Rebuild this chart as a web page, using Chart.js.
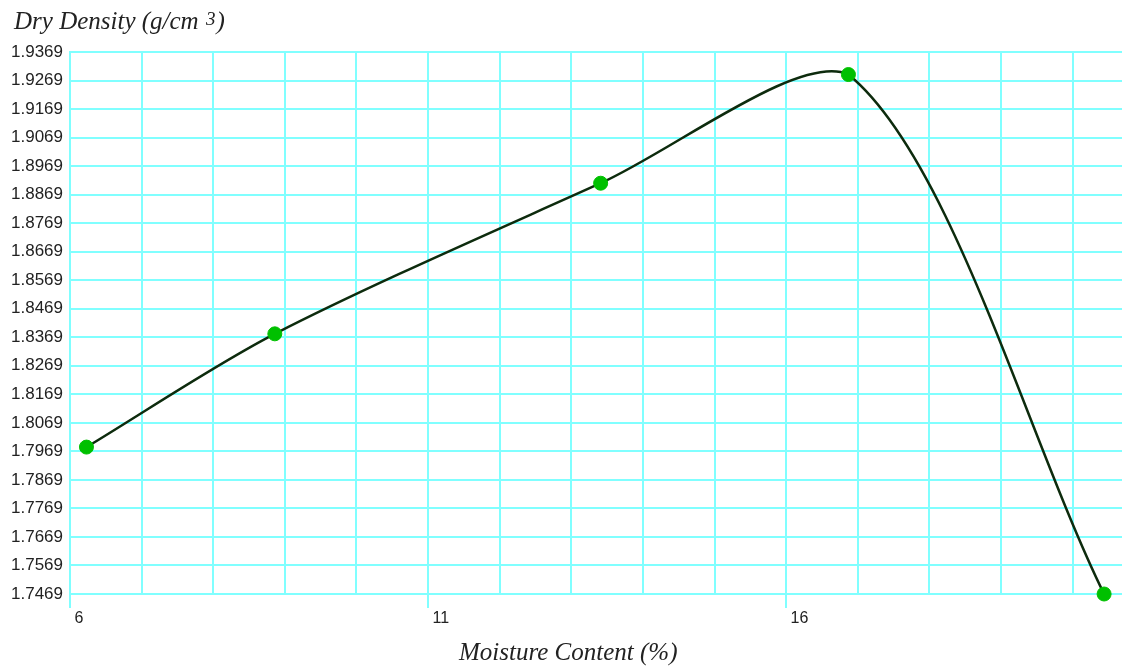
<!DOCTYPE html>
<html lang="en">
<head>
<meta charset="UTF-8">
<title>Dry Density vs Moisture Content</title>
<script src="https://cdn.jsdelivr.net/npm/chart.js"></script>
<style>
  html, body { margin: 0; padding: 0; background: #fff; }
  #wrap { width: 1122px; height: 667px; }
</style>
</head>
<body>
<div id="wrap"><canvas id="chart"></canvas></div>
<script>
// readings
const moisture = [6.23, 8.86, 13.41, 16.87, 20.44];
const density = [1.7984, 1.8381, 1.8909, 1.9290, 1.7469];

// axes
const xGridTicks = [6, 7, 8, 9, 10, 11, 12, 13, 14, 15, 16, 17, 18, 19, 20];
const xLabelTicks = [6, 11, 16];
const yMin = 1.7469, yMax = 1.9369, yStep = 0.01;

const gridCyan = '#80ffff';

// titles sit outside the plot (y title is horizontal, top-left)
const axisTitles = {
    id: 'axisTitles',
    afterDraw(chart) {
        const c = chart.ctx;
        c.save();
        c.fillStyle = '#222';
        c.textAlign = 'left';
        c.textBaseline = 'alphabetic';
        c.font = 'italic 25px "Liberation Serif"';
        const main = 'Dry Density (g/cm ';
        c.fillText(main, 14, 29);
        let x = 14 + c.measureText(main).width + 1;
        c.font = 'italic 19px "Liberation Serif"';
        c.fillText('3', x, 25);
        x += c.measureText('3').width + 1;
        c.font = 'italic 25px "Liberation Serif"';
        c.fillText(')', x, 29);
        c.fillText('Moisture Content (%)', 459, 660);
        c.restore();
    }
};

new Chart(document.getElementById('chart'), {
    type: 'scatter',
    data: {
        datasets: [{
            data: moisture.map((m, i) => ({ x: m, y: density[i] })),
            showLine: true,
            tension: 0.3,
            borderColor: '#0d2b0d',
            borderWidth: 2.5,
            pointRadius: 7,
            pointBorderWidth: 1,
            pointBackgroundColor: '#00c000',
            pointBorderColor: '#00c000',
            clip: false
        }]
    },
    options: {
        responsive: true,
        maintainAspectRatio: false,
        animation: false,
        layout: { autoPadding: false, padding: { top: 52, left: 0, right: 0, bottom: 0 } },
        plugins: {
            legend: { display: false },
            tooltip: { enabled: false }
        },
        scales: {
            x: {
                type: 'linear',
                min: 6,
                max: 20.69,
                afterBuildTicks: s => { s.ticks = xGridTicks.map(v => ({ value: v })); },
                afterFit: s => { s.height = 73; },
                grid: {
                    color: gridCyan,
                    lineWidth: 2,
                    tickLength: 14,
                    tickColor: ctx => xLabelTicks.includes(ctx.tick && ctx.tick.value) ? gridCyan : 'rgba(0,0,0,0)'
                },
                border: { color: gridCyan, width: 2 },
                ticks: {
                    autoSkip: false,
                    maxRotation: 0,
                    align: 'start',
                    padding: 1,
                    color: '#222',
                    font: { family: '"Liberation Sans", Arial', size: 16 },
                    callback: v => xLabelTicks.includes(v) ? ' ' + v : ''
                }
            },
            y: {
                min: yMin,
                max: yMax,
                afterFit: s => { s.width = 70; },
                grid: { color: gridCyan, lineWidth: 2, drawTicks: false },
                border: { color: gridCyan, width: 2 },
                ticks: {
                    stepSize: yStep,
                    autoSkip: false,
                    padding: 7,
                    color: '#222',
                    font: { family: '"Liberation Sans", Arial', size: 17 },
                    callback: v => v.toFixed(4)
                }
            }
        }
    },
    plugins: [axisTitles]
});
</script>
</body>
</html>
